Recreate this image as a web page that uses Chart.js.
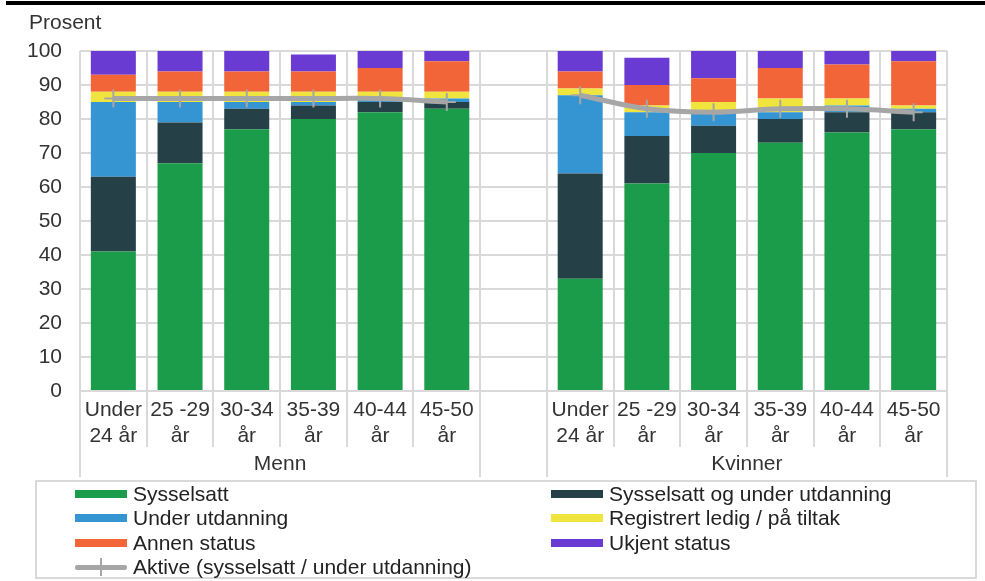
<!DOCTYPE html>
<html>
<head>
<meta charset="utf-8">
<script src="https://cdn.jsdelivr.net/npm/chart.js@4/dist/chart.umd.min.js"></script>
<style>
  body { margin: 0; background: #fff; font-family: "Liberation Sans", Arial, sans-serif; }
  #page { position: relative; width: 985px; height: 581px; overflow: hidden; }
  #topbar { position: absolute; left: 6px; top: 1px; width: 979px; height: 4px; background: #000; }
  #wrap { position: absolute; left: 0; top: 0; width: 985px; height: 481px; }
  #legend {
    position: absolute; left: 35px; top: 480px; width: 938px; height: 95px;
    border: 2px solid #d9d9d9; box-sizing: content-box;
    display: grid; grid-template-columns: 476px 460px; grid-auto-rows: 24.3px;
    padding-top: 0; font-size: 21px; color: #222;
  }
  .item { display: flex; align-items: center; padding-left: 38px; white-space: nowrap; }
  .sw { display: inline-block; width: 52px; height: 8px; margin-right: 6px; }
  .swline { position: relative; display: inline-block; width: 52px; height: 8px; margin-right: 6px; }
  .swline::before { content: ""; position: absolute; left: 0; right: 0; top: 2px; height: 5px; background: #a6a6a6; border-radius: 2px; }
  .swline::after { content: ""; position: absolute; left: 25px; width: 2px; top: -5px; height: 18px; background: #a6a6a6; }
</style>
</head>
<body>
<div id="page">
  <div id="wrap"><canvas id="chart"></canvas></div>
  <div id="topbar"></div>
  <div id="legend"></div>
</div>
<script>
const ageLabels = [['Under', '24 år'], ['25 -29', 'år'], ['30-34', 'år'], ['35-39', 'år'], ['40-44', 'år'], ['45-50', 'år']];
const groups = ['Menn', 'Kvinner'];
const categories = [...ageLabels, '', ...ageLabels];

const sysselsatt =       [41, 67, 77, 80, 82, 83, null, 33, 61, 70, 73, 76, 77];
const sysselsattUtd =    [22, 12,  6,  4,  3,  2, null, 31, 14,  8,  7,  6,  5];
const underUtdanning =   [22,  6,  2,  1,  1,  1, null, 23,  7,  4,  2,  2,  1];
const registrertLedig =  [ 3,  3,  3,  3,  2,  2, null,  2,  2,  3,  4,  2,  1];
const annenStatus =      [ 5,  6,  6,  6,  7,  9, null,  5,  6,  7,  9, 10, 13];
const ukjentStatus =     [ 7,  6,  6,  5,  5,  3, null,  6,  8,  8,  5,  4,  3];
const aktive =           [86, 86, 86, 86, 86, 85, null, 87, 83, 82, 83, 83, 82];

const yTicks = [0, 10, 20, 30, 40, 50, 60, 70, 80, 90, 100];

const textColor = '#333333';
const gridColor = '#d9d9d9';
const font = { family: '"Liberation Sans", Arial, sans-serif', size: 21 };

function bar(label, data, color) {
  return { type: 'bar', label, data, backgroundColor: color, stack: 'a',
           barPercentage: 0.675, categoryPercentage: 1, borderWidth: 0 };
}

// group labels and the longer separators below the axis
const groupPlugin = {
  id: 'groups',
  afterDraw(chart) {
    const ctx = chart.ctx;
    const x = chart.scales.x;
    const slot = x.getPixelForValue(1) - x.getPixelForValue(0);
    const edge = i => x.getPixelForValue(i) - slot / 2;
    const top = x.top, bottom = x.bottom, groupBottom = x.bottom + 30;
    ctx.save();
    ctx.strokeStyle = gridColor;
    ctx.lineWidth = 2;
    for (let i = 0; i <= categories.length; i++) {
      const px = Math.round(edge(i));
      const ext = (i === 0 || i === 6 || i === 7 || i === 13);
      ctx.beginPath();
      ctx.moveTo(px, top);
      ctx.lineTo(px, ext ? groupBottom : bottom);
      ctx.stroke();
    }
    ctx.fillStyle = textColor;
    ctx.font = font.size + 'px ' + font.family;
    ctx.textAlign = 'center';
    ctx.textBaseline = 'middle';
    ctx.fillText(groups[0], (edge(0) + edge(6)) / 2, bottom + 17);
    ctx.fillText(groups[1], (edge(7) + edge(13)) / 2, bottom + 17);
    // axis title
    ctx.textAlign = 'left';
    ctx.fillText('Prosent', 29, 23);
    ctx.restore();
  }
};

const chart = new Chart(document.getElementById('chart'), {
  data: {
    labels: categories,
    datasets: [
      { type: 'line', label: 'Aktive (sysselsatt / under utdanning)', data: aktive, stack: 'line',
        borderColor: '#a6a6a6', borderWidth: 5, tension: 0.35, spanGaps: false,
        pointStyle: 'cross', pointRadius: 9, pointBorderWidth: 2, pointBorderColor: '#a6a6a6',
        pointBackgroundColor: '#a6a6a6' },
      bar('Sysselsatt', sysselsatt, '#1b9c4a'),
      bar('Sysselsatt og under utdanning', sysselsattUtd, '#264047'),
      bar('Under utdanning', underUtdanning, '#3595d3'),
      bar('Registrert ledig / på tiltak', registrertLedig, '#f0e43f'),
      bar('Annen status', annenStatus, '#f26539'),
      bar('Ukjent status', ukjentStatus, '#6a3bd3')
    ]
  },
  options: {
    responsive: true,
    maintainAspectRatio: false,
    animation: false,
    layout: { padding: { top: 51, right: 38, bottom: 34, left: 0 } },
    plugins: {
      legend: { display: false },
      tooltip: { enabled: false }
    },
    scales: {
      x: {
        stacked: true,
        offset: true,
        grid: { offset: true, color: gridColor, lineWidth: 2, drawTicks: false },
        border: { display: true, color: gridColor, width: 2 },
        ticks: { font, color: textColor, padding: 7, maxRotation: 0, autoSkip: false },
        afterFit: s => { s.height = 56; }
      },
      y: {
        stacked: true,
        min: 0,
        max: 100,
        grid: { color: gridColor, lineWidth: 2, drawTicks: false },
        border: { display: false },
        afterBuildTicks: s => { s.ticks = yTicks.map(v => ({ value: v })); },
        ticks: { font, color: textColor, padding: 18 },
        afterFit: s => { s.width = 80; }
      }
    }
  },
  plugins: [groupPlugin]
});

// legend in two columns, built from the datasets
const legendOrder = [1, 2, 3, 4, 5, 6, 0];
const legendEl = document.getElementById('legend');
legendOrder.forEach(i => {
  const ds = chart.data.datasets[i];
  const item = document.createElement('div');
  item.className = 'item';
  const sw = document.createElement('span');
  if (ds.type === 'line') {
    sw.className = 'swline';
  } else {
    sw.className = 'sw';
    sw.style.background = ds.backgroundColor;
  }
  item.appendChild(sw);
  item.appendChild(document.createTextNode(ds.label));
  legendEl.appendChild(item);
});
</script>
</body>
</html>
